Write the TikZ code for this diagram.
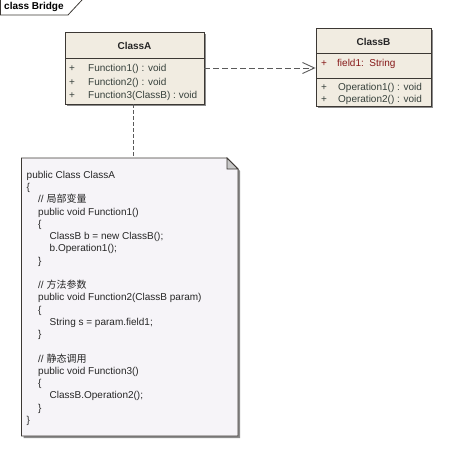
\documentclass[tikz,border=0pt]{standalone}
\usepackage{fontspec}
\setmainfont{Liberation Sans}
\newfontfamily\cjk{Noto Sans CJK SC}
\usetikzlibrary{arrows.meta,shadows}

\definecolor{classfill}{RGB}{241,236,225}
\definecolor{notefill}{RGB}{246,244,248}
\definecolor{edgecol}{RGB}{60,56,52}
\definecolor{membertext}{RGB}{55,65,60}
\definecolor{fieldtext}{RGB}{135,25,25}
\definecolor{linkcol}{RGB}{90,90,90}

\tikzset{
  classbox/.style={draw=edgecol, fill=classfill, line width=0.9pt, inner sep=0pt,
    drop shadow={shadow xshift=2pt, shadow yshift=-2pt, fill=black!45, opacity=1}},
  classname/.style={font=\bfseries\fontsize{10}{12}\selectfont, inner sep=0pt, text=black!85},
  member/.style={anchor=west, inner sep=0pt, font=\fontsize{10}{12}\selectfont, text=membertext},
  field/.style={member, text=fieldtext},
  dep/.style={draw=linkcol, line width=0.9pt, dash pattern=on 6pt off 3pt},
  notelink/.style={draw=linkcol, line width=0.8pt, dash pattern=on 4pt off 2pt},
  codetext/.style={anchor=north west, inner sep=0pt, align=left, text=black!85,
    font=\fontsize{10}{12.25}\selectfont}
}
\newcommand{\ind}{\hspace*{11.5pt}}

\begin{document}
\begin{tikzpicture}[x=1pt,y=-1pt]
\useasboundingbox (0,0) rectangle (450,455);

% frame tab
\draw[edgecol, line width=0.8pt] (0.4,0) -- (0.4,15) -- (68,15) -- (82,0);
\node[anchor=west, inner sep=0pt, font=\bfseries\fontsize{10}{12}\selectfont] (title) at (4,7) {class Bridge};

% ClassA
\node[classbox, minimum width=139pt, minimum height=72pt] (classA) at (134.5,68) {};
\draw[edgecol, line width=0.9pt] (65,58) -- (204,58);
\node[classname] (nameA) at (134.5,46) {ClassA};
\node[member] (plusA1) at (69,69) {+};
\node[member] (plusA2) at (69,82.5) {+};
\node[member] (plusA3) at (69,96) {+};
\node[member] (opA1) at (88,69) {Function1() : void};
\node[member] (opA2) at (88,82.5) {Function2() : void};
\node[member] (opA3) at (88,96) {Function3(ClassB) : void};

% ClassB
\node[classbox, minimum width=115pt, minimum height=78pt] (classB) at (373.5,67) {};
\draw[edgecol, line width=0.9pt] (316,53) -- (431,53);
\draw[edgecol, line width=0.9pt] (316,78) -- (431,78);
\node[classname] (nameB) at (373.5,42) {ClassB};
\node[field] (plusB0) at (321,64) {+};
\node[field] (fieldB) at (337,64) {field1:\ \ String};
\node[member] (plusB1) at (321,88) {+};
\node[member] (plusB2) at (321,100) {+};
\node[member] (opB1) at (338,88) {Operation1() : void};
\node[member] (opB2) at (338,100) {Operation2() : void};

% dependency
\draw[dep, -{Straight Barb[length=12pt,width=11pt,line width=0.9pt]}] (classA.east) -- (classB.west |- classA.east);

% note
\coordinate (nw) at (21.5,158);
\coordinate (ne) at (238,158);
\coordinate (se) at (238,436);
\path[draw=edgecol, fill=notefill, line width=0.9pt,
  drop shadow={shadow xshift=2pt, shadow yshift=-2pt, fill=black!45, opacity=1}]
  (nw) -- ([xshift=-11pt]ne) -- ([yshift=-11pt]ne) -- (se) -- (nw |- se) -- cycle;
\filldraw[draw=edgecol, fill=black!22, line width=0.8pt]
  ([xshift=-11pt]ne) -- ([xshift=-11pt,yshift=-11pt]ne) -- ([yshift=-11pt]ne) -- cycle;
\node[codetext] (code) at (26.5,171) {%
public Class ClassA\\
\{\\
\ind// {\cjk 局部变量}\\
\ind public void Function1()\\
\ind\{\\
\ind\ind ClassB b = new ClassB();\\
\ind\ind b.Operation1();\\
\ind\}\\
\mbox{}\\
\ind// {\cjk 方法参数}\\
\ind public void Function2(ClassB param)\\
\ind\{\\
\ind\ind String s = param.field1;\\
\ind\}\\
\mbox{}\\
\ind// {\cjk 静态调用}\\
\ind public void Function3()\\
\ind\{\\
\ind\ind ClassB.Operation2();\\
\ind\}\\
\}};
\coordinate (notetop) at (133,158);
\draw[notelink] (classA.south -| notetop) -- (notetop);
\end{tikzpicture}
\end{document}
